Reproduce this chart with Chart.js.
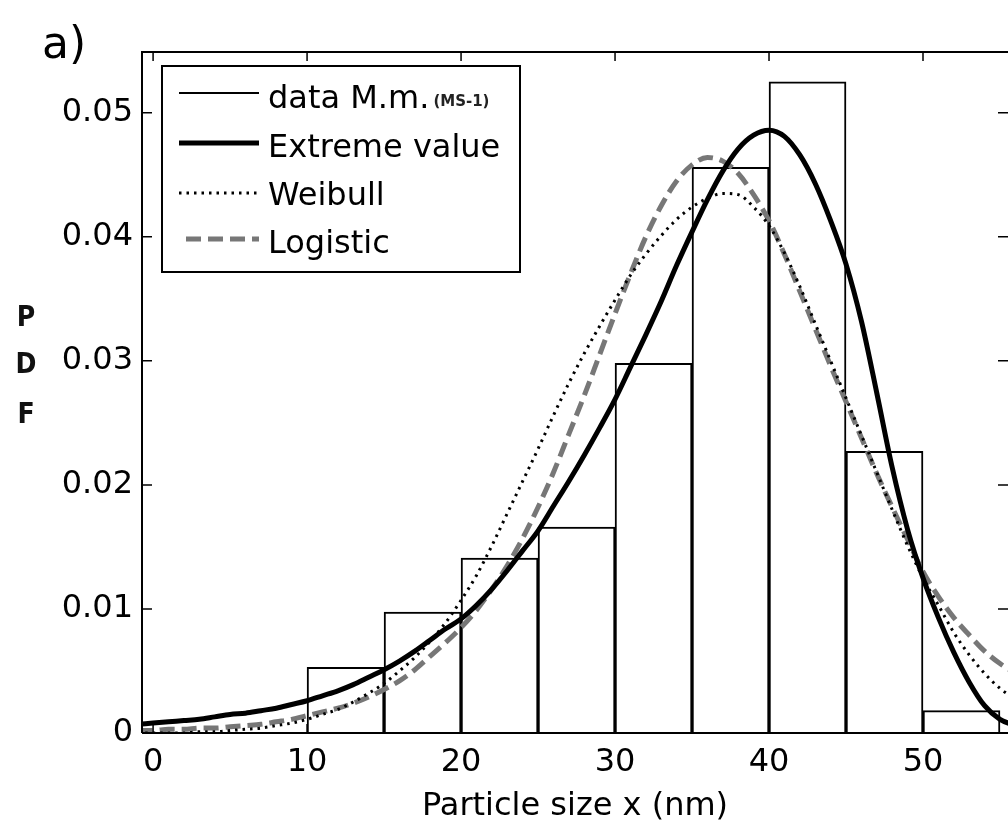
<!DOCTYPE html>
<html>
<head>
<meta charset="utf-8">
<title>PDF</title>
<script src="https://cdn.jsdelivr.net/npm/chart.js@4/dist/chart.umd.min.js"></script>
<style>
html, body { margin: 0; padding: 0; background: #fff; }
#wrap { width: 1008px; height: 832px; position: relative; }
</style>
</head>
<body>
<div id="wrap"><canvas id="pdf"></canvas></div>
<script>
// histogram of measured particle sizes (bin centres, 5 nm wide)
const binCenters = [12.5, 17.5, 22.5, 27.5, 32.5, 37.5, 42.5, 47.5, 52.5];
const binHeights = [0.0053, 0.00975, 0.0141, 0.0166, 0.0298, 0.0456, 0.0525, 0.0227, 0.0018];

// fitted curves
const curveX = [-1, 0, 1, 2, 3, 4, 5, 6, 7, 8, 9, 10, 11, 12, 13, 14, 15, 16, 17, 18, 19,
    20, 21, 22, 23, 24, 25, 26, 27, 28, 29, 30, 31, 32, 33, 34, 35, 36, 37, 38, 39,
    40, 41, 42, 43, 44, 45, 46, 47, 48, 49, 50, 51, 52, 53, 54, 55, 56];
const extremeValue = [0.0007, 0.0008, 0.0009, 0.0010, 0.0011, 0.0013, 0.0015, 0.0016, 0.0018, 0.0020,
    0.0023, 0.0026, 0.0030, 0.0034, 0.0039, 0.0045, 0.0051, 0.0058, 0.0066, 0.0075,
    0.0084, 0.0092, 0.0103, 0.0116, 0.0131, 0.0147, 0.0163, 0.0183, 0.0203, 0.0224,
    0.0246, 0.0269, 0.0295, 0.0321, 0.0348, 0.0377, 0.0404, 0.0430, 0.0453, 0.0471,
    0.0482, 0.0486, 0.0481, 0.0466, 0.0443, 0.0413, 0.0378, 0.0332, 0.0274, 0.0214,
    0.0164, 0.0125, 0.0093, 0.0065, 0.0041, 0.0022, 0.0011, 0.0006];
const weibull = [0.0000, 0.0000, 0.0000, 0.0000, 0.0001, 0.0001, 0.0002, 0.0003, 0.0004, 0.0006,
    0.0008, 0.0011, 0.0015, 0.0019, 0.0025, 0.0032, 0.0040, 0.0050, 0.0061, 0.0074,
    0.0089, 0.0107, 0.0127, 0.0151, 0.0177, 0.0203, 0.0229, 0.0256, 0.0282, 0.0306,
    0.0328, 0.0349, 0.0369, 0.0386, 0.0401, 0.0414, 0.0424, 0.0431, 0.0435, 0.0434,
    0.0424, 0.0409, 0.0387, 0.0360, 0.0330, 0.0300, 0.0270, 0.0240, 0.0210, 0.0180,
    0.0151, 0.0125, 0.0103, 0.0081, 0.0063, 0.0048, 0.0036, 0.0027];
const logistic = [0.0002, 0.0002, 0.0003, 0.0003, 0.0004, 0.0004, 0.0005, 0.0006, 0.0007, 0.0009,
    0.0011, 0.0014, 0.0017, 0.0020, 0.0024, 0.0029, 0.0035, 0.0042, 0.0051, 0.0062,
    0.0073, 0.0085, 0.0099, 0.0116, 0.0135, 0.0157, 0.0182, 0.0210, 0.0241, 0.0272,
    0.0305, 0.0338, 0.0370, 0.0400, 0.0425, 0.0445, 0.0458, 0.0464, 0.0461, 0.0451,
    0.0434, 0.0413, 0.0386, 0.0356, 0.0326, 0.0296, 0.0267, 0.0238, 0.0209, 0.0182,
    0.0156, 0.0130, 0.0110, 0.0093, 0.0079, 0.0066, 0.0056, 0.0048];

const xTicks = [0, 10, 20, 30, 40, 50];
const yTicks = [0, 0.01, 0.02, 0.03, 0.04, 0.05];
const legendLabels = ["data M.m.", "Extreme value", "Weibull", "Logistic"];

const FONT = "'DejaVu Sans', 'Liberation Sans', sans-serif";
Chart.defaults.font.family = FONT;
Chart.defaults.color = "#000";

const toPoints = ys => curveX.map((x, i) => ({ x, y: ys[i] }));

// frame, inward ticks, legend box and loose labels
const decorations = {
    id: "decorations",
    afterDraw(chart) {
        const { ctx, chartArea: a, scales } = chart;
        ctx.save();
        ctx.strokeStyle = "#000";
        ctx.lineWidth = 2;
        ctx.beginPath();
        ctx.moveTo(a.left, a.bottom); ctx.lineTo(a.left, a.top); ctx.lineTo(a.right, a.top);
        ctx.moveTo(a.left, a.bottom); ctx.lineTo(a.right, a.bottom);
        ctx.stroke();

        ctx.lineWidth = 1.5;
        ctx.beginPath();
        xTicks.forEach(v => {
            const px = scales.x.getPixelForValue(v);
            ctx.moveTo(px, a.top); ctx.lineTo(px, a.top + 9);
            ctx.moveTo(px, a.bottom); ctx.lineTo(px, a.bottom - 9);
        });
        yTicks.forEach(v => {
            const py = scales.y.getPixelForValue(v);
            ctx.moveTo(a.left, py); ctx.lineTo(a.left + 10, py);
            ctx.moveTo(a.right, py); ctx.lineTo(a.right - 10, py);
        });
        ctx.stroke();

        // legend
        const bx = a.left + 20, by = a.top + 14, bw = 358, bh = 206;
        ctx.fillStyle = "#fff";
        ctx.fillRect(bx, by, bw, bh);
        ctx.lineWidth = 2;
        ctx.strokeRect(bx, by, bw, bh);
        const sets = chart.data.datasets;
        const rowY = [93, 143, 193, 239].map(y => y - 52 + a.top);
        const baseY = [108, 157, 205, 253].map(y => y - 52 + a.top);
        legendLabels.forEach((label, i) => {
            const ds = sets[i];
            ctx.save();
            ctx.strokeStyle = ds.borderColor;
            ctx.lineWidth = i === 0 ? 2 : ds.borderWidth;
            ctx.setLineDash(ds.borderDash || []);
            ctx.beginPath();
            ctx.moveTo(bx + (i === 3 ? 24 : 17), rowY[i]);
            ctx.lineTo(bx + 97, rowY[i]);
            ctx.stroke();
            ctx.restore();
            ctx.fillStyle = "#000";
            ctx.font = "32px " + FONT;
            ctx.textBaseline = "alphabetic";
            ctx.textAlign = "left";
            ctx.fillText(label, bx + 106, baseY[i]);
            if (i === 0) {
                const w = ctx.measureText(label).width;
                ctx.font = "bold 15px " + FONT;
                ctx.fillStyle = "#222";
                ctx.fillText("(MS-1)", bx + 106 + w + 4, baseY[i] - 2);
            }
        });

        // panel tag and stacked y label
        ctx.fillStyle = "#000";
        ctx.font = "44px " + FONT;
        ctx.textAlign = "left";
        ctx.fillText("a)", 42, 58);
        ctx.font = "bold 28px 'DejaVu Sans Condensed', " + FONT;
        ctx.textAlign = "center";
        ctx.fillStyle = "#111";
        ["P", "D", "F"].forEach((c, i) => ctx.fillText(c, 26, [326, 373, 423][i]));
        ctx.restore();
    }
};

new Chart(document.getElementById("pdf"), {
    type: "bar",
    data: {
        datasets: [
            {
                type: "bar",
                label: legendLabels[0],
                data: binCenters.map((x, i) => ({ x, y: binHeights[i] })),
                backgroundColor: "#fff",
                borderColor: "#000",
                borderWidth: 2,
                borderSkipped: "start",
                barPercentage: 1,
                categoryPercentage: 1,
                grouped: false,
                order: 4,
            },
            {
                type: "line",
                label: legendLabels[1],
                data: toPoints(extremeValue),
                borderColor: "#000",
                borderWidth: 5,
                pointRadius: 0,
                cubicInterpolationMode: "monotone",
                fill: false,
                order: 1,
            },
            {
                type: "line",
                label: legendLabels[2],
                data: toPoints(weibull),
                borderColor: "#000",
                borderWidth: 3,
                borderDash: [2.5, 5],
                pointRadius: 0,
                cubicInterpolationMode: "monotone",
                fill: false,
                order: 2,
            },
            {
                type: "line",
                label: legendLabels[3],
                data: toPoints(logistic),
                borderColor: "#777",
                borderWidth: 5,
                borderDash: [15, 7],
                pointRadius: 0,
                cubicInterpolationMode: "monotone",
                fill: false,
                order: 3,
            },
        ],
    },
    options: {
        responsive: true,
        maintainAspectRatio: false,
        animation: false,
        events: [],
        layout: { padding: { top: 52, left: 0, right: 0, bottom: 0 } },
        plugins: { legend: { display: false }, tooltip: { enabled: false } },
        scales: {
            x: {
                type: "linear",
                min: -0.72,
                max: 55.52,
                offset: false,
                grid: { display: false, drawTicks: false },
                border: { display: false },
                afterBuildTicks: s => { s.ticks = xTicks.map(v => ({ value: v })); },
                afterFit: s => { s.height = 99; },
                ticks: { font: { size: 32 }, padding: 10, maxRotation: 0 },
                title: {
                    display: true,
                    text: "Particle size x (nm)",
                    font: { size: 32 },
                    padding: { top: 0, bottom: 6 },
                },
            },
            y: {
                min: 0,
                max: 0.0549,
                grid: { display: false, drawTicks: false },
                border: { display: false },
                afterBuildTicks: s => { s.ticks = yTicks.map(v => ({ value: v })); },
                afterFit: s => { s.width = 142; },
                ticks: {
                    font: { size: 32 },
                    padding: 9,
                    callback: v => (v === 0 ? "0" : v.toFixed(2)),
                },
            },
        },
    },
    plugins: [decorations],
});
</script>
</body>
</html>
